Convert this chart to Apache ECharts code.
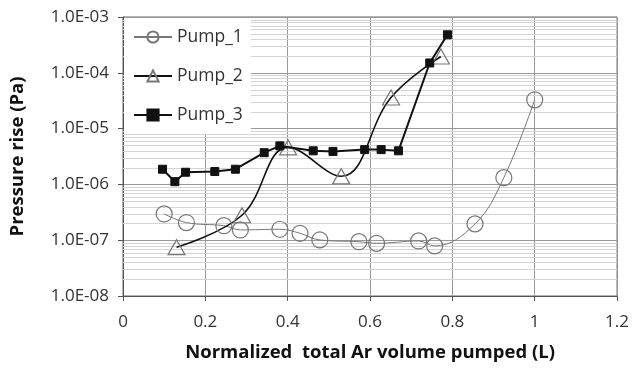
<!DOCTYPE html>
<html><head><meta charset="utf-8">
<script src="https://cdn.jsdelivr.net/npm/echarts@6/dist/echarts.min.js"></script>
<style>html,body{margin:0;padding:0;background:#fff}#c{width:632px;height:368px}</style>
</head><body><div id="c"></div>
<script>
// ---- data ----
const seriesNames = ['Pump_1', 'Pump_2', 'Pump_3'];
const pump1X = [0.100, 0.154, 0.245, 0.285, 0.381, 0.430, 0.478, 0.573, 0.616, 0.718, 0.757, 0.855, 0.925, 1.000];
const pump1Y = [2.96e-7, 2.07e-7, 1.82e-7, 1.53e-7, 1.57e-7, 1.33e-7, 1.01e-7, 9.4e-8, 8.8e-8, 9.7e-8, 7.9e-8, 1.96e-7, 1.32e-6, 3.28e-5];
const pump2X = [0.130, 0.289, 0.401, 0.530, 0.651, 0.772];
const pump2Y = [7.5e-8, 2.8e-7, 4.6e-6, 1.40e-6, 3.6e-5, 1.96e-4];
const pump3X = [0.096, 0.126, 0.152, 0.223, 0.273, 0.343, 0.381, 0.462, 0.510, 0.587, 0.627, 0.669, 0.745, 0.788];
const pump3Y = [1.87e-6, 1.12e-6, 1.65e-6, 1.70e-6, 1.87e-6, 3.7e-6, 4.9e-6, 4.0e-6, 3.9e-6, 4.2e-6, 4.2e-6, 4.0e-6, 1.5e-4, 4.8e-4];
const xTickValues = [0, 0.2, 0.4, 0.6, 0.8, 1, 1.2];
const xTickLabels = ['0', '0.2', '0.4', '0.6', '0.8', '1', '1.2'];
const yTickExponents = [-8, -7, -6, -5, -4, -3];
const yTickLabels = ['1.0E-08', '1.0E-07', '1.0E-06', '1.0E-05', '1.0E-04', '1.0E-03'];
const minorMultipliers = [2, 3, 4, 5, 6, 7, 8, 9];
const minorDecades = [-8, -7, -6, -5, -4];

// ---- build ----
const zip = (xs, ys) => xs.map((x, i) => [x, ys[i]]);
const minorValues = [];
minorDecades.forEach(d => minorMultipliers.forEach(m => minorValues.push([m * Math.pow(10, d)])));

const FONT = 'Open Sans';
const chart = echarts.init(document.getElementById('c'), null, { renderer: 'canvas' });
chart.setOption({
  animation: false,
  backgroundColor: '#fff',
  textStyle: { fontFamily: FONT },
  grid: { left: 122, right: 13, top: 17, bottom: 72, show: true, borderColor: '#666', borderWidth: 1, containLabel: false },
  legend: {
    data: seriesNames,
    orient: 'vertical',
    left: 124, top: 18,
    itemWidth: 38, itemHeight: 14, itemGap: 21,
    padding: [10, 8, 10, 9],
    backgroundColor: '#fff',
    textStyle: { fontFamily: FONT, fontSize: 17.5, color: '#333' }
  },
  xAxis: {
    type: 'value', min: 0, max: 1.2, interval: 0.2,
    name: 'Normalized  total Ar volume pumped (L)',
    nameLocation: 'middle', nameGap: 47,
    nameTextStyle: { fontFamily: FONT, fontSize: 18.5, fontWeight: 'bold', color: '#111' },
    axisLine: { lineStyle: { color: '#555', width: 1 } },
    axisTick: { show: true, length: 5, lineStyle: { color: '#555' } },
    axisLabel: {
      fontFamily: FONT, fontSize: 17, color: '#333', margin: 18,
      formatter: v => { const i = xTickValues.findIndex(t => Math.abs(t - v) < 1e-9); return i >= 0 ? xTickLabels[i] : ''; }
    },
    splitLine: { show: true, lineStyle: { color: '#999', width: 1 } }
  },
  yAxis: {
    type: 'log', logBase: 10, min: 1e-8, max: 1e-3,
    name: 'Pressure rise (Pa)',
    nameLocation: 'middle', nameGap: 96, nameRotate: 90,
    nameTextStyle: { fontFamily: FONT, fontSize: 18.5, fontWeight: 'bold', color: '#111' },
    axisLine: { show: true, lineStyle: { color: '#555', width: 1 } },
    axisTick: { show: true, length: 5, lineStyle: { color: '#555' } },
    axisLabel: {
      fontFamily: FONT, fontSize: 17, color: '#333', margin: 14,
      formatter: v => { const e = Math.round(Math.log10(v)); const i = yTickExponents.indexOf(e); return i >= 0 ? yTickLabels[i] : ''; }
    },
    splitLine: { show: true, lineStyle: { color: '#999', width: 1 } },
    minorTick: { show: false }, minorSplitLine: { show: false }
  },
  series: [
    {
      name: 'minorGrid', type: 'custom', data: minorValues, z: 1, silent: true,
      encode: { y: 0 }, clip: true,
      renderItem: (params, api) => {
        const y = Math.round(api.coord([0, api.value(0)])[1]) + 0.5;
        const cs = params.coordSys;
        return { type: 'line', shape: { x1: cs.x, y1: y, x2: cs.x + cs.width, y2: y },
          style: { stroke: '#d4d4d4', lineWidth: 1 } };
      }
    },
    {
      name: 'Pump_1', type: 'line', data: zip(pump1X, pump1Y), smooth: 0.4, z: 3,
      symbol: 'circle', symbolSize: 16,
      lineStyle: { color: '#777', width: 1 },
      itemStyle: { color: 'rgba(255,255,255,0)', borderColor: '#777', borderWidth: 1.2 }
    },
    {
      name: 'Pump_2', type: 'line', data: zip(pump2X, pump2Y), smooth: 0.4, z: 3,
      symbol: 'triangle', symbolSize: [17, 15],
      lineStyle: { color: '#111', width: 1.6 },
      itemStyle: { color: 'rgba(255,255,255,0)', borderColor: '#777', borderWidth: 1.2 }
    },
    {
      name: 'Pump_3', type: 'line', data: zip(pump3X, pump3Y), smooth: false, z: 4,
      symbol: 'rect', symbolSize: 8,
      lineStyle: { color: '#111', width: 2 },
      itemStyle: { color: '#111', borderColor: '#111', borderWidth: 1 }
    }
  ]
});
</script></body></html>
